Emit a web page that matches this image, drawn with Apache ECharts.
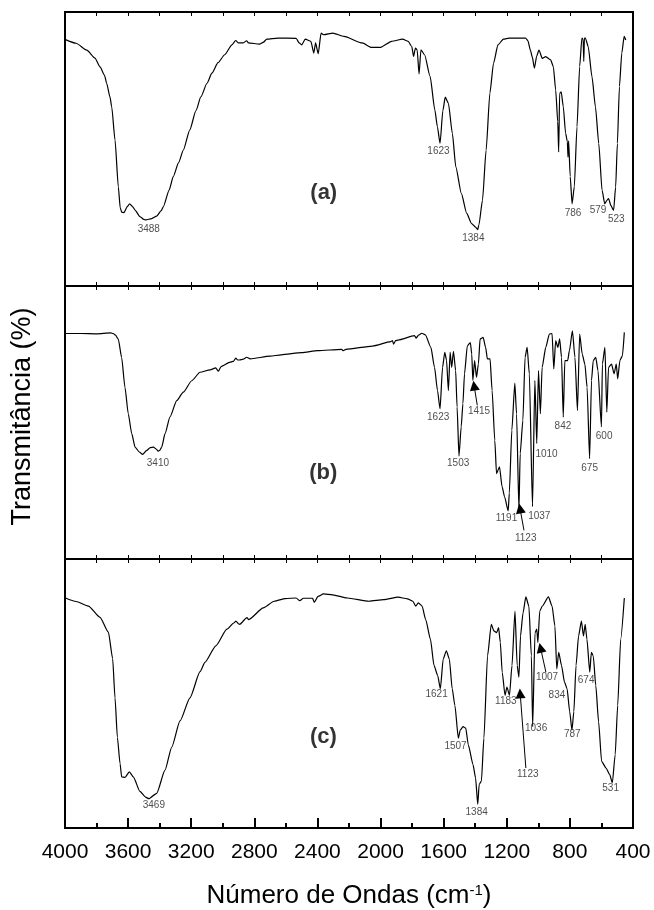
<!DOCTYPE html>
<html><head><meta charset="utf-8">
<script src="https://cdn.jsdelivr.net/npm/echarts@6/dist/echarts.min.js"></script>
<style>html,body{margin:0;padding:0;background:#fff}#c{width:654px;height:910px}</style>
</head><body><div id="c"></div>
<script>
// wavenumber (cm-1), relative transmittance (0-100 within each panel)
const specA = [[4000,90.0],[3930,88.6],[3862,86.1],[3810,83.2],[3778,80.0],[3750,77.0],[3736,74.0],[3715,69.0],[3704,65.4],[3683,53.3],[3662,36.2],[3650,28.5],[3640,26.9],[3626,26.8],[3605,29.0],[3590,30.0],[3572,29.0],[3556,27.7],[3525,25.3],[3500,24.3],[3488,24.1],[3450,24.6],[3419,25.5],[3390,27.5],[3377,28.9],[3340,35.0],[3314,39.9],[3280,45.0],[3250,49.6],[3209,57.0],[3170,64.0],[3139,69.0],[3100,74.0],[3069,77.7],[3030,81.5],[2988,84.4],[2942,88.0],[2918,89.6],[2902,88.7],[2872,88.7],[2849,89.5],[2837,88.7],[2767,88.3],[2744,88.9],[2721,90.1],[2651,90.5],[2535,90.4],[2516,88.7],[2500,88.0],[2477,90.1],[2442,89.3],[2423,85.0],[2412,88.7],[2395,84.8],[2377,92.3],[2360,91.7],[2302,92.3],[2232,91.1],[2116,88.7],[2058,87.1],[2000,87.1],[1930,89.3],[1860,90.1],[1825,89.3],[1802,87.4],[1791,83.8],[1779,86.8],[1768,86.2],[1756,77.4],[1744,86.2],[1721,84.4],[1686,76.5],[1656,64.3],[1640,58.2],[1623,52.1],[1605,64.0],[1590,68.9],[1570,66.7],[1545,55.7],[1523,43.5],[1488,33.8],[1454,26.5],[1423,22.8],[1400,21.6],[1384,20.6],[1377,22.2],[1354,31.3],[1331,49.6],[1307,70.4],[1284,81.3],[1256,88.0],[1221,90.1],[1186,90.5],[1081,90.5],[1066,89.5],[1050,86.0],[1038,83.5],[1025,79.5],[1010,84.0],[996,86.1],[975,83.1],[953,83.7],[922,82.5],[905,80.1],[890,71.5],[877,60.0],[871,48.9],[865,70.3],[855,70.9],[842,65.5],[827,55.7],[816,52.7],[812,47.0],[808,53.0],[798,40.0],[786,30.0],[772,36.2],[755,58.1],[738,80.1],[724,90.5],[716,90.0],[712,82.0],[708,90.5],[702,90.5],[684,87.4],[660,76.4],[638,65.4],[617,52.0],[596,34.9],[579,30.0],[565,31.3],[555,31.9],[540,29.4],[523,27.6],[510,36.1],[499,52.0],[486,72.8],[471,85.0],[456,91.1],[446,89.8]];

const specB = [[4000,82.6],[3900,82.6],[3800,82.5],[3710,82.8],[3694,82.6],[3680,82.0],[3662,80.5],[3641,73.8],[3620,62.9],[3599,53.2],[3577,45.9],[3556,41.0],[3529,39.2],[3508,38.3],[3482,39.8],[3460,40.8],[3440,41.0],[3420,40.2],[3410,39.5],[3400,39.8],[3387,41.0],[3366,45.9],[3335,52.0],[3292,58.0],[3250,61.1],[3197,65.3],[3144,68.4],[3080,69.3],[3045,70.0],[3027,68.8],[3011,70.5],[2953,72.1],[2930,72.5],[2918,73.6],[2905,72.9],[2895,72.9],[2870,73.2],[2849,73.9],[2826,73.3],[2700,74.3],[2629,74.8],[2500,75.6],[2398,76.3],[2248,76.8],[2236,76.3],[2220,76.8],[2051,78.0],[1935,79.6],[1925,80.0],[1917,78.7],[1905,80.0],[1889,80.2],[1785,81.8],[1774,80.9],[1760,82.0],[1739,82.7],[1716,82.1],[1681,77.5],[1658,70.2],[1639,61.7],[1623,55.0],[1607,70.2],[1593,75.7],[1582,72.9],[1570,61.7],[1559,75.7],[1549,70.2],[1538,76.1],[1524,69.0],[1515,55.7],[1503,37.7],[1489,48.4],[1478,56.9],[1468,67.8],[1450,78.1],[1431,79.3],[1422,75.1],[1415,65.4],[1404,72.7],[1392,66.6],[1380,71.4],[1369,80.6],[1350,81.2],[1334,77.5],[1323,73.3],[1306,73.3],[1293,61.7],[1276,43.5],[1265,31.3],[1246,33.8],[1230,26.5],[1214,22.8],[1191,17.6],[1184,24.1],[1168,47.1],[1149,64.4],[1138,53.2],[1123,18.0],[1115,38.6],[1098,50.8],[1084,73.9],[1071,77.5],[1057,67.8],[1037,19.2],[1022,65.4],[1010,42.3],[999,69.0],[987,53.2],[976,70.2],[953,77.5],[930,82.4],[913,82.6],[902,69.6],[890,80.0],[876,77.5],[865,80.6],[853,73.9],[842,52.0],[832,72.7],[814,72.7],[803,76.3],[784,83.6],[768,73.9],[752,54.4],[738,82.4],[722,75.1],[705,71.4],[691,62.9],[675,36.8],[663,65.4],[652,72.7],[636,73.9],[622,69.0],[600,48.4],[594,71.4],[578,77.5],[566,53.8],[555,70.2],[536,71.4],[520,67.8],[506,71.4],[497,66.0],[483,72.7],[467,74.5],[455,83.0]];

const specC = [[4000,85.6],[3930,84.2],[3852,82.5],[3778,78.3],[3725,72.8],[3698,63.0],[3683,48.4],[3668,33.7],[3651,23.9],[3641,19.0],[3620,18.8],[3592,20.9],[3567,19.0],[3525,13.6],[3490,11.5],[3469,10.9],[3419,12.9],[3366,21.5],[3324,30.0],[3271,39.8],[3208,48.4],[3144,58.1],[3113,61.6],[3044,67.7],[2974,73.9],[2930,76.2],[2917,76.9],[2900,75.9],[2893,75.7],[2847,78.2],[2836,77.5],[2743,81.8],[2674,84.3],[2604,85.3],[2535,85.5],[2512,84.5],[2489,85.4],[2431,85.4],[2420,83.9],[2396,86.1],[2362,87.0],[2304,86.7],[2211,85.5],[2073,84.3],[1980,84.9],[1888,85.8],[1830,85.2],[1795,84.3],[1777,82.5],[1761,83.7],[1737,82.5],[1714,77.5],[1684,70.2],[1661,60.4],[1638,56.7],[1621,51.8],[1603,62.8],[1583,65.9],[1564,62.8],[1546,51.8],[1529,45.6],[1507,33.4],[1495,36.4],[1477,37.7],[1460,37.1],[1444,30.9],[1414,23.6],[1398,18.7],[1384,8.8],[1375,16.2],[1361,17.4],[1345,33.4],[1322,64.0],[1298,75.7],[1282,73.3],[1264,72.6],[1252,74.5],[1241,69.0],[1229,57.9],[1211,49.3],[1199,52.4],[1183,49.3],[1167,60.4],[1148,80.6],[1134,60.4],[1123,56.1],[1113,71.4],[1097,80.0],[1079,85.9],[1060,82.5],[1044,64.0],[1036,37.7],[1021,72.6],[1010,73.9],[1003,69.0],[991,80.6],[975,82.5],[936,85.9],[913,82.5],[895,75.1],[883,59.1],[871,65.3],[853,60.4],[834,54.2],[818,51.8],[801,43.2],[787,36.4],[775,43.2],[761,60.4],[745,71.4],[727,76.9],[714,71.4],[703,75.7],[692,70.2],[674,57.9],[664,65.3],[652,64.0],[636,53.0],[618,39.5],[599,24.8],[571,22.3],[548,19.9],[531,16.8],[513,27.2],[497,45.6],[478,70.2],[455,85.5]];

// peak labels: [text, wavenumber, value]
const labelsA = [['3488',3469,20.7],['1623',1633,49.0],['1384',1412,17.4],['786',780,26.5],['579',622,27.7],['523',506,24.5]];
const labelsB = [['3410',3411,35.0],['1623',1635,51.8],['1415',1376,54.1],['1503',1508,35.0],['1191',1202,14.9],['1123',1080,7.7],['1037',994,15.6],['1010',948,38.4],['842',844,48.7],['675',675,33.4],['600',583,45.1]];
const labelsC = [['3469',3437,8.6],['1621',1645,49.9],['1507',1525,30.3],['1384',1391,5.8],['1183',1206,47.1],['1123',1067,19.9],['1036',1014,37.1],['1007',945,56.1],['834',882,49.3],['787',785,34.8],['674',697,55.1],['531',542,14.7]];
// arrows: [tailW, tailV, tipW, tipV]
const arrowsB = [[1387,56.3,1407,63.5],[1091,10.5,1116,18.5]];
const arrowsC = [[1079,22.3,1115,50.0],[952,57.9,986,67.0]];
// panel letters: [text, wavenumber, value]
const panelTags = [['(a)',2360,34.0],['(b)',2363,31.6],['(c)',2362,34.0]];
const xMin = 400, xMax = 4000, xStep = 400;

const FONT = 'Arial, "Liberation Sans", sans-serif';
const chart = echarts.init(document.getElementById('c'), null, {renderer:'canvas'});

const grids = [
  {left:65, width:568, top:12, height:274},
  {left:65, width:568, top:286, height:273},
  {left:65, width:568, top:559, height:272}
].map(g => Object.assign(g, {show:true, borderColor:'#000', borderWidth:2, containLabel:false}));

const xAxes = [];
const yAxes = [];
for (let i = 0; i < 3; i++) {
  const isBottom = i === 2;
  xAxes.push({
    gridIndex:i, type:'value', position:'bottom', inverse:true, min:xMin, max:xMax, interval:xStep,
    axisLine:{show:false},
    axisTick:{show:true, inside:true, length: isBottom?10:4, lineStyle:{color:'#000', width: isBottom?2:1}},
    minorTick:{show:true, splitNumber:2, length: isBottom?5:4, lineStyle:{color:'#000', width: isBottom?2:1}},
    axisLabel:{show:isBottom, color:'#000', fontSize:21, fontFamily:FONT, margin:14, formatter: v => String(v)},
    splitLine:{show:false}, minorSplitLine:{show:false},
    name: isBottom ? 'Número de Ondas (cm{sup|-1})' : '',
    nameLocation:'middle', nameGap:55,
    nameTextStyle:{color:'#000', fontSize:26, fontFamily:FONT,
      rich:{sup:{fontSize:15, color:'#000', fontFamily:FONT, verticalAlign:'top'}}}
  });
  xAxes.push({
    gridIndex:i, type:'value', position:'top', inverse:true, min:xMin, max:xMax, interval:xStep,
    axisLine:{show:false},
    axisTick:{show:true, inside:true, length:4, lineStyle:{color:'#000'}},
    minorTick:{show:true, splitNumber:2, length:4, lineStyle:{color:'#000'}},
    axisLabel:{show:false}, splitLine:{show:false}
  });
  yAxes.push({
    gridIndex:i, type:'value', min:0, max:100,
    axisLine:{show:false}, axisTick:{show:false}, axisLabel:{show:false}, splitLine:{show:false},
    name: i === 1 ? 'Transmitância (%)' : '',
    nameLocation:'middle', nameRotate:90, nameGap:29,
    nameTextStyle:{color:'#000', fontSize:27, fontFamily:FONT, padding:[0,0,0,12]}
  });
}

const specs = [specA, specB, specC];
const labels = [labelsA, labelsB, labelsC];
const arrows = [[], arrowsB, arrowsC];
const series = [];
for (let i = 0; i < 3; i++) {
  series.push({
    type:'line', xAxisIndex:i*2, yAxisIndex:i, data:specs[i], showSymbol:false,
    smooth:0.2, smoothMonotone:'x', silent:true,
    lineStyle:{color:'#000', width:1.2}
  });
  const s = {
    type:'scatter', xAxisIndex:i*2, yAxisIndex:i, symbolSize:1, silent:true,
    itemStyle:{color:'rgba(0,0,0,0)'},
    data: labels[i].map(l => ({name:l[0], value:[l[1], l[2]]})),
    label:{show:true, position:'inside', formatter:'{b}', fontSize:10, color:'#222', fontFamily:FONT}
  };
  if (arrows[i].length) {
    s.markLine = {
      silent:true, animation:false,
      symbol:['none','triangle'], symbolSize:10,
      label:{show:false},
      itemStyle:{color:'#000'},
      lineStyle:{color:'#000', width:1, type:'solid'},
      emphasis:{disabled:true},
      data: arrows[i].map(a => [{coord:[a[0], a[1]]}, {coord:[a[2], a[3]]}])
    };
  }
  series.push(s);
  series.push({
    type:'scatter', xAxisIndex:i*2, yAxisIndex:i, symbolSize:1, silent:true,
    itemStyle:{color:'rgba(0,0,0,0)'},
    data:[{name:panelTags[i][0], value:[panelTags[i][1], panelTags[i][2]]}],
    label:{show:true, position:'inside', formatter:'{b}', fontSize:22, fontWeight:'bold', color:'#000', fontFamily:FONT}
  });
}

chart.setOption({
  animation:false,
  backgroundColor:'#fff',
  grid:grids, xAxis:xAxes, yAxis:yAxes, series:series
});
</script>
</body></html>
